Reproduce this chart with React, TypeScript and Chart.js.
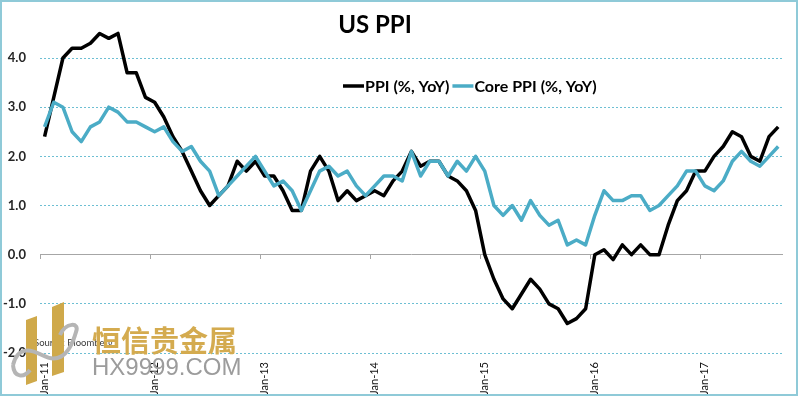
import React, { useEffect, useRef } from 'react';
import { Chart, registerables } from 'chart.js';

Chart.register(...registerables);

const MONTHS = ['Jan', 'Feb', 'Mar', 'Apr', 'May', 'Jun', 'Jul', 'Aug', 'Sep', 'Oct', 'Nov', 'Dec'];
const YEARS = ['11', '12', '13', '14', '15', '16', '17'];
const LAST_YEAR_MONTHS = 9; // data runs to Sep-17

const categories: string[] = [];
YEARS.forEach((yr, yi) => {
  const n = yi === YEARS.length - 1 ? LAST_YEAR_MONTHS : 12;
  for (let m = 0; m < n; m++) categories.push(`${MONTHS[m]}-${yr}`);
});

const ppi = [
  2.4, 3.2, 4.0, 4.2, 4.2, 4.3, 4.5, 4.4, 4.5, 3.7,
  3.7, 3.2, 3.1, 2.8, 2.4, 2.1, 1.7, 1.3, 1.0, 1.2,
  1.4, 1.9, 1.7, 1.9, 1.6, 1.6, 1.3, 0.9, 0.9, 1.7,
  2.0, 1.7, 1.1, 1.3, 1.1, 1.2, 1.3, 1.2, 1.5, 1.7,
  2.1, 1.8, 1.9, 1.9, 1.6, 1.5, 1.3, 0.9, 0.0, -0.5,
  -0.9, -1.1, -0.8, -0.5, -0.7, -1.0, -1.1, -1.4, -1.3, -1.1,
  0.0, 0.1, -0.1, 0.2, 0.0, 0.2, 0.0, 0.0, 0.6, 1.1,
  1.3, 1.7, 1.7, 2.0, 2.2, 2.5, 2.4, 2.0, 1.9, 2.4,
  2.6,
];

const corePpi = [
  2.6, 3.1, 3.0, 2.5, 2.3, 2.6, 2.7, 3.0, 2.9, 2.7,
  2.7, 2.6, 2.5, 2.6, 2.3, 2.1, 2.2, 1.9, 1.7, 1.2,
  1.4, 1.6, 1.8, 2.0, 1.7, 1.4, 1.5, 1.3, 0.9, 1.3,
  1.7, 1.8, 1.6, 1.7, 1.4, 1.2, 1.4, 1.6, 1.6, 1.5,
  2.1, 1.6, 1.9, 1.9, 1.6, 1.9, 1.7, 2.0, 1.7, 1.0,
  0.8, 1.0, 0.7, 1.1, 0.8, 0.6, 0.7, 0.2, 0.3, 0.2,
  0.8, 1.3, 1.1, 1.1, 1.2, 1.2, 0.9, 1.0, 1.2, 1.4,
  1.7, 1.7, 1.4, 1.3, 1.5, 1.9, 2.1, 1.9, 1.8, 2.0,
  2.2,
];

const yTickValues = [-2, -1, 0, 1, 2, 3, 4];

const TITLE = 'US PPI';
const SERIES_NAMES = ['PPI (%, YoY)', 'Core PPI (%, YoY)'];
const SOURCE = 'Source: Bloomberg';
const WM_CN = '恒信贵金属';
const WM_EN = 'HX9999.COM';

const BLACK = '#000000';
const BLUE = '#4bacc6';
const GRID = '#6dbfd3';
const AXIS_GRAY = '#a6a6a6';

const decorPlugin = {
  id: 'decor',
  afterDraw(chart: any) {
    const ctx: CanvasRenderingContext2D = chart.ctx;
    ctx.save();
    // Title
    ctx.fillStyle = '#000';
    ctx.font = 'bold 24px Lato';
    ctx.textAlign = 'center';
    ctx.textBaseline = 'alphabetic';
    ctx.fillText(TITLE, 375, 33);

    // Legend
    ctx.font = 'bold 16px Lato';
    ctx.textAlign = 'left';
    ctx.textBaseline = 'middle';
    ctx.lineWidth = 3.5;
    ctx.lineCap = 'butt';
    ctx.strokeStyle = BLACK;
    ctx.beginPath();
    ctx.moveTo(343, 86);
    ctx.lineTo(364, 86);
    ctx.stroke();
    ctx.fillStyle = '#000';
    ctx.fillText(SERIES_NAMES[0], 365, 87);
    const w0 = ctx.measureText(SERIES_NAMES[0]).width;
    const x1 = 365 + w0 + 3;
    ctx.strokeStyle = BLUE;
    ctx.beginPath();
    ctx.moveTo(x1, 86);
    ctx.lineTo(x1 + 21, 86);
    ctx.stroke();
    ctx.fillText(SERIES_NAMES[1], x1 + 22, 87);

    // Source
    ctx.font = '9.5px Lato';
    ctx.fillStyle = '#3a3a3a';
    ctx.fillText(SOURCE, 34, 343);

    // Watermark logo
    ctx.fillStyle = '#cfa94a';
    ctx.beginPath();
    ctx.moveTo(26, 320);
    ctx.lineTo(37, 316);
    ctx.lineTo(37, 381);
    ctx.lineTo(26, 385);
    ctx.closePath();
    ctx.fill();
    ctx.beginPath();
    ctx.moveTo(52, 307);
    ctx.lineTo(64, 302);
    ctx.lineTo(64, 372);
    ctx.lineTo(52, 376);
    ctx.closePath();
    ctx.fill();
    ctx.strokeStyle = '#b5b5b5';
    ctx.lineWidth = 4;
    ctx.beginPath();
    ctx.moveTo(13, 365);
    ctx.bezierCurveTo(18, 345, 32, 350, 42, 355);
    ctx.bezierCurveTo(55, 362, 68, 360, 76, 332);
    ctx.bezierCurveTo(80, 322, 66, 322, 60, 335);
    ctx.stroke();
    ctx.beginPath();
    ctx.moveTo(13, 365);
    ctx.bezierCurveTo(14, 378, 24, 378, 30, 370);
    ctx.stroke();

    // Watermark text
    ctx.fillStyle = '#d4ab4f';
    ctx.font = 'bold 29px "Noto Sans CJK SC"';
    ctx.textBaseline = 'middle';
    ctx.fillText(WM_CN, 92, 341);
    ctx.fillStyle = '#9c9c9c';
    ctx.font = '24px "Liberation Sans"';
    ctx.textBaseline = 'alphabetic';
    ctx.fillText(WM_EN, 92, 375);

    // Chart border
    ctx.strokeStyle = '#8fcad8';
    ctx.lineWidth = 2;
    ctx.strokeRect(1, 1, 796, 394);
    ctx.restore();
  },
};

export default function App() {
  const ref = useRef<HTMLCanvasElement | null>(null);

  useEffect(() => {
    if (!ref.current) return;
    const chart = new Chart(ref.current, {
      type: 'line',
      data: {
        labels: categories,
        datasets: [
          {
            label: SERIES_NAMES[0],
            data: ppi,
            borderColor: BLACK,
            backgroundColor: BLACK,
            borderWidth: 3.5,
            pointRadius: 0,
            tension: 0,
            borderJoinStyle: 'round',
            order: 1,
          },
          {
            label: SERIES_NAMES[1],
            data: corePpi,
            borderColor: BLUE,
            backgroundColor: BLUE,
            borderWidth: 3.5,
            pointRadius: 0,
            tension: 0,
            borderJoinStyle: 'round',
            order: 0,
          },
        ],
      },
      options: {
        responsive: false,
        maintainAspectRatio: false,
        animation: false,
        events: [],
        layout: { padding: { top: 23.6, right: 17.2, bottom: 0, left: 0 } },
        plugins: {
          legend: { display: false },
          title: { display: false },
          tooltip: { enabled: false },
        },
        scales: {
          x: {
            type: 'category',
            offset: true,
            grid: { display: false, offset: true, drawTicks: false },
            border: { display: false },
            ticks: {
              autoSkip: false,
              maxRotation: 90,
              minRotation: 90,
              padding: 9,
              color: '#111111',
              font: { family: 'Lato', size: 11 },
              callback: (_v: any, i: number) => (categories[i].startsWith('Jan') ? categories[i] : ''),
            },
            afterFit: (s: any) => {
              s.height = 43;
              s.paddingLeft = 0;
              s.paddingRight = 0;
            },
          },
          x2: {
            type: 'category',
            position: { y: 0 },
            offset: true,
            grid: {
              offset: true,
              drawOnChartArea: false,
              drawTicks: true,
              tickLength: 4,
              color: (c: any) => (c.index % 12 === 0 ? AXIS_GRAY : 'rgba(0,0,0,0)'),
              lineWidth: 1,
            },
            border: { display: true, color: AXIS_GRAY, width: 1 },
            ticks: { display: false, autoSkip: false },
            afterFit: (s: any) => {
              s.paddingLeft = 0;
              s.paddingRight = 0;
            },
          },
          y: {
            min: -2,
            max: 4.7,
            afterBuildTicks: (s: any) => {
              s.ticks = yTickValues.map((v) => ({ value: v }));
            },
            grid: {
              color: (c: any) => (c.tick && c.tick.value === 0 ? 'rgba(0,0,0,0)' : GRID),
              lineWidth: 1,
              drawTicks: false,
            },
            border: { display: false, dash: [2, 2] },
            ticks: {
              padding: 14,
              color: '#262626',
              font: { family: 'Lato', size: 13, weight: 'bold' },
              callback: (v: any) => Number(v).toFixed(1),
            },
            afterFit: (s: any) => {
              s.width = 40;
            },
          },
        },
      } as any,
      plugins: [decorPlugin],
    });
    return () => chart.destroy();
  }, []);

  return (
    <div style={{ position: 'absolute', left: 0, top: 0, width: 800, height: 396, background: '#fff' }}>
      <canvas ref={ref} width={800} height={396} style={{ display: 'block' }} />
    </div>
  );
}
